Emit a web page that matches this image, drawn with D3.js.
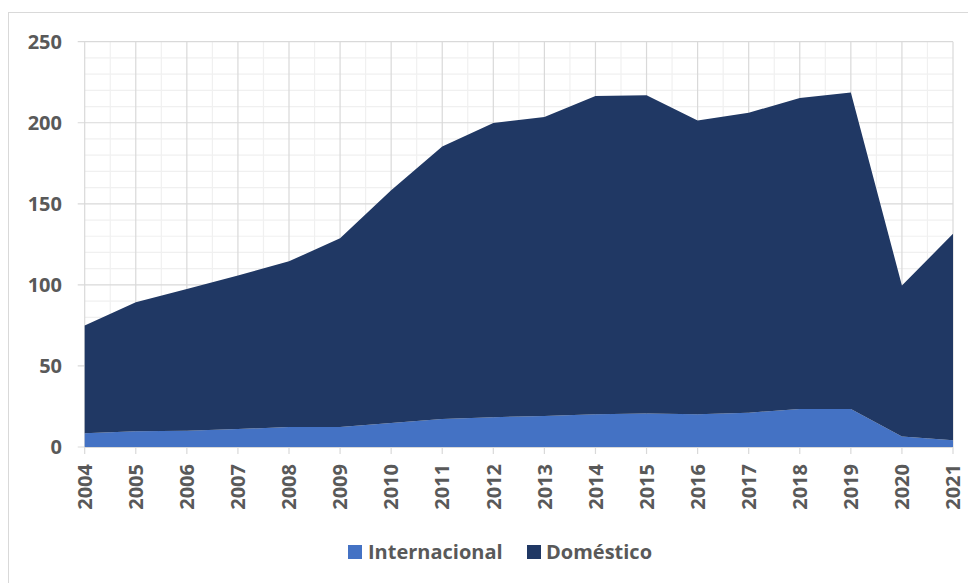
<!DOCTYPE html>
<html>
<head>
<meta charset="utf-8">
<script src="https://cdn.jsdelivr.net/npm/d3@7/dist/d3.min.js"></script>
<style>
  html, body { margin: 0; padding: 0; background: #fff; }
  svg { display: block; }
  text { font-family: "Open Sans", Lato, sans-serif; font-weight: 700; fill: #595959; }
</style>
</head>
<body>
<svg id="chart" width="968" height="583"></svg>
<script>
// Passengers by year, stacked: international at the bottom, domestic on top
const years = [2004, 2005, 2006, 2007, 2008, 2009, 2010, 2011, 2012,
               2013, 2014, 2015, 2016, 2017, 2018, 2019, 2020, 2021];
const internacional = [8.5, 9.7, 10.1, 11.1, 12.3, 12.3, 14.8, 17.3, 18.4,
                       19.1, 20.2, 20.6, 20.2, 21.2, 23.5, 23.5, 6.4, 4.1];
const domestico = [66.5, 79.6, 87.4, 94.7, 102.2, 116.5, 143.6, 168.1, 181.4,
                   184.4, 196.3, 196.3, 181.2, 185.0, 191.7, 195.2, 93.2, 127.4];
const yTicks = [0, 50, 100, 150, 200, 250];
const seriesNames = ["Internacional", "Doméstico"];
const seriesColors = ["#4472C4", "#203864"];

const svg = d3.select("#chart");
const W = 968, H = 583;
const plot = { left: 84.7, right: 953, top: 41.7, bottom: 447 };

// Chart frame
svg.append("rect")
  .attr("x", 8.5).attr("y", 12.5)
  .attr("width", W + 10).attr("height", H + 10)
  .attr("fill", "none").attr("stroke", "#d9d9d9").attr("stroke-width", 1);

const x = d3.scaleLinear().domain([years[0], years[years.length - 1]])
  .range([plot.left, plot.right]);
const y = d3.scaleLinear().domain([0, 250]).range([plot.bottom, plot.top]);

// Minor gridlines
const grid = svg.append("g");
const minorX = d3.range(years[0] + 0.5, years[years.length - 1], 1);
const minorY = d3.range(0, 251, 10).filter(v => v % 50 !== 0);
grid.selectAll(".mx").data(minorX).join("line")
  .attr("x1", d => x(d)).attr("x2", d => x(d))
  .attr("y1", y(250)).attr("y2", y(0))
  .attr("stroke", "#f0f0f0").attr("stroke-width", 1.2);
grid.selectAll(".my").data(minorY).join("line")
  .attr("x1", plot.left).attr("x2", plot.right)
  .attr("y1", d => y(d)).attr("y2", d => y(d))
  .attr("stroke", "#f0f0f0").attr("stroke-width", 1.2);

// Major gridlines
grid.selectAll(".Mx").data(years).join("line")
  .attr("x1", d => x(d)).attr("x2", d => x(d))
  .attr("y1", y(250)).attr("y2", y(0))
  .attr("stroke", "#d9d9d9").attr("stroke-width", 1.2);
grid.selectAll(".My").data(yTicks).join("line")
  .attr("x1", plot.left - 7).attr("x2", plot.right)
  .attr("y1", d => y(d)).attr("y2", d => y(d))
  .attr("stroke", "#d9d9d9").attr("stroke-width", 1.2);

// Stacked areas
const table = years.map((yr, i) => ({
  year: yr, Internacional: internacional[i], "Doméstico": domestico[i]
}));
const stacked = d3.stack().keys(seriesNames)(table);
const area = d3.area()
  .x(d => x(d.data.year))
  .y0(d => y(d[0]))
  .y1(d => y(d[1]));
svg.append("g").selectAll("path").data(stacked).join("path")
  .attr("d", area)
  .attr("fill", (d, i) => seriesColors[i]);

// X axis line and ticks
svg.append("line")
  .attr("x1", plot.left).attr("x2", plot.right)
  .attr("y1", y(0) + 0.5).attr("y2", y(0) + 0.5)
  .attr("stroke", "#d9d9d9").attr("stroke-width", 1.2);
svg.append("g").selectAll("line").data(years).join("line")
  .attr("x1", d => x(d)).attr("x2", d => x(d))
  .attr("y1", y(0)).attr("y2", y(0) + 7)
  .attr("stroke", "#d9d9d9").attr("stroke-width", 1.2);

// Y labels
svg.append("g").selectAll("text").data(yTicks).join("text")
  .attr("x", 62).attr("y", d => y(d))
  .attr("dy", "0.36em")
  .attr("text-anchor", "end")
  .attr("font-size", 20)
  .text(d => d);

// X labels, rotated
svg.append("g").selectAll("text").data(years).join("text")
  .attr("transform", d => `translate(${x(d)},464) rotate(-90)`)
  .attr("text-anchor", "end")
  .attr("dy", "0.36em")
  .attr("font-size", 20)
  .text(d => d);

// Legend
const legendItems = [
  { name: seriesNames[0], color: seriesColors[0], sx: 348, tx: 368 },
  { name: seriesNames[1], color: seriesColors[1], sx: 527, tx: 546 }
];
const lg = svg.append("g");
lg.selectAll("rect").data(legendItems).join("rect")
  .attr("x", d => d.sx).attr("y", 545)
  .attr("width", 14).attr("height", 14)
  .attr("fill", d => d.color);
lg.selectAll("text").data(legendItems).join("text")
  .attr("x", d => d.tx).attr("y", 552)
  .attr("dy", "0.36em")
  .attr("font-size", 20)
  .text(d => d.name);
</script>
</body>
</html>
